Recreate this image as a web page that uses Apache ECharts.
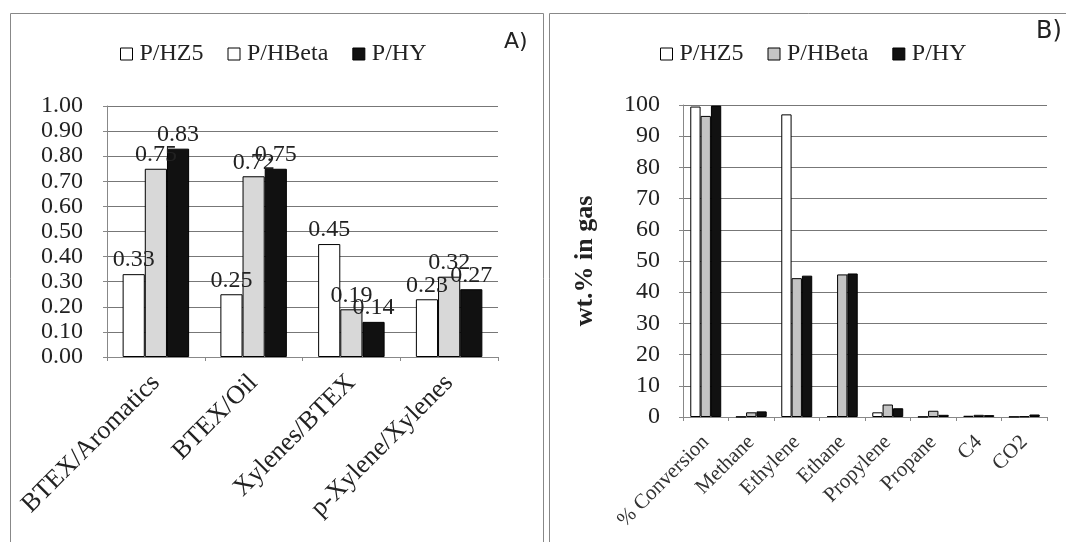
<!DOCTYPE html>
<html><head><meta charset="utf-8">
<script src="https://cdn.jsdelivr.net/npm/echarts@6/dist/echarts.min.js"></script>
<style>html,body{margin:0;padding:0;background:#fff}#c{width:1066px;height:542px}</style>
</head><body><div id="c"></div>
<script>
const seriesNames = ['P/HZ5', 'P/HBeta', 'P/HY'];
// Panel A
const catsA = ['BTEX/Aromatics', 'BTEX/Oil', 'Xylenes/BTEX', 'p-Xylene/Xylenes'];
const hz5A = [0.33, 0.25, 0.45, 0.23];
const hbetaA = [0.75, 0.72, 0.19, 0.32];
const hyA = [0.83, 0.75, 0.14, 0.27];
const ticksA = ['0.00','0.10','0.20','0.30','0.40','0.50','0.60','0.70','0.80','0.90','1.00'];
// Panel B
const catsB = ['% Conversion', 'Methane', 'Ethylene', 'Ethane', 'Propylene', 'Propane', 'C4', 'CO2'];
const hz5B = [99.5, 0.1, 97.0, 0.3, 1.5, 0.1, 0.4, 0.1];
const hbetaB = [96.5, 1.5, 44.5, 45.7, 4.0, 2.0, 0.7, 0.2];
const hyB = [99.8, 1.8, 45.3, 46.0, 2.8, 0.7, 0.6, 0.8];

const serif = 'Liberation Serif';
const fills = ['#ffffff', '#d8d8d8', '#111111'];
const fillsB = ['#ffffff', '#c4c4c4', '#111111'];
const chart = echarts.init(document.getElementById('c'));

function bar(name, data, idx, fill, withLabel) {
  return {
    type: 'bar', name: name, data: data, xAxisIndex: idx, yAxisIndex: idx,
    barGap: '0%', barCategoryGap: '32%',
    itemStyle: { color: fill, borderColor: '#000', borderWidth: 1 },
    label: withLabel ? { show: true, position: 'top', fontFamily: serif, fontSize: 24, color: '#222', distance: 2,
      formatter: p => p.value.toFixed(2) } : { show: false },
    emphasis: { disabled: true }
  };
}
const gridLine = { show: true, lineStyle: { color: '#777', width: 1 } };
const axisLine = { show: true, lineStyle: { color: '#888' } };
const legendText = { fontFamily: serif, fontSize: 24, color: '#222', padding: [0, 0, 0, 2] };

chart.setOption({
  animation: false,
  graphic: [
    { type: 'rect', shape: { x: 10.5, y: 13.5, width: 533, height: 540 }, style: { fill: 'none', stroke: '#888', lineWidth: 1 } },
    { type: 'rect', shape: { x: 549.5, y: 13.5, width: 530, height: 540 }, style: { fill: 'none', stroke: '#888', lineWidth: 1 } },
    { type: 'text', left: 504, top: 31, style: { text: 'A)', font: '22px DejaVu Sans', fill: '#222' } },
    { type: 'text', left: 1036, top: 20, style: { text: 'B)', font: '24px DejaVu Sans', fill: '#222' } }
  ],
  legend: [
    { left: 115, top: 37, itemWidth: 12, itemHeight: 12, itemGap: 24, icon: 'rect',
      textStyle: legendText,
      data: [
        { name: 'P/HZ5', itemStyle: { color: '#fff', borderColor: '#000', borderWidth: 1 } },
        { name: 'P/HBeta', itemStyle: { color: '#fff', borderColor: '#000', borderWidth: 1 } },
        { name: 'P/HY', itemStyle: { color: '#111', borderColor: '#000', borderWidth: 1 } }
      ], selectedMode: false },
    { left: 655, top: 37, itemWidth: 12, itemHeight: 12, itemGap: 24, icon: 'rect',
      textStyle: legendText,
      data: [
        { name: 'P/HZ5', itemStyle: { color: '#fff', borderColor: '#000', borderWidth: 1 } },
        { name: 'P/HBeta', itemStyle: { color: '#c4c4c4', borderColor: '#000', borderWidth: 1 } },
        { name: 'P/HY', itemStyle: { color: '#111', borderColor: '#000', borderWidth: 1 } }
      ], selectedMode: false }
  ],
  grid: [
    { left: 107, right: 568, top: 106, bottom: 185 },
    { left: 683, right: 19, top: 105, bottom: 125 }
  ],
  xAxis: [
    { type: 'category', gridIndex: 0, data: catsA, axisLine: axisLine,
      axisTick: { show: true, length: 4, lineStyle: { color: '#888' } },
      axisLabel: { rotate: 45, interval: 0, fontFamily: serif, fontSize: 26, color: '#222', margin: 22 } },
    { type: 'category', gridIndex: 1, data: catsB, axisLine: axisLine,
      axisTick: { show: true, length: 4, lineStyle: { color: '#888' } },
      axisLabel: { rotate: 45, interval: 0, fontFamily: serif, fontSize: 21, color: '#333', margin: 22 } }
  ],
  yAxis: [
    { type: 'value', gridIndex: 0, min: 0, max: 1, interval: 0.1, axisLine: axisLine,
      axisTick: { show: true, length: 4, lineStyle: { color: '#888' } }, splitLine: gridLine,
      axisLabel: { fontFamily: serif, fontSize: 24, color: '#222', margin: 24,
        formatter: v => ticksA[Math.round(v * 10)] } },
    { type: 'value', gridIndex: 1, min: 0, max: 100, interval: 10, axisLine: axisLine,
      axisTick: { show: true, length: 4, lineStyle: { color: '#888' } }, splitLine: gridLine,
      name: 'wt.% in gas', nameLocation: 'middle', nameGap: 85, nameRotate: 90,
      nameTextStyle: { fontFamily: serif, fontSize: 26, fontWeight: 'bold', color: '#222' },
      axisLabel: { fontFamily: serif, fontSize: 24, color: '#222', margin: 23 } }
  ],
  series: [
    bar(seriesNames[0], hz5A, 0, fills[0], true),
    bar(seriesNames[1], hbetaA, 0, fills[1], true),
    bar(seriesNames[2], hyA, 0, fills[2], true),
    bar(seriesNames[0], hz5B, 1, fillsB[0], false),
    bar(seriesNames[1], hbetaB, 1, fillsB[1], false),
    bar(seriesNames[2], hyB, 1, fillsB[2], false)
  ]
});
</script></body></html>
